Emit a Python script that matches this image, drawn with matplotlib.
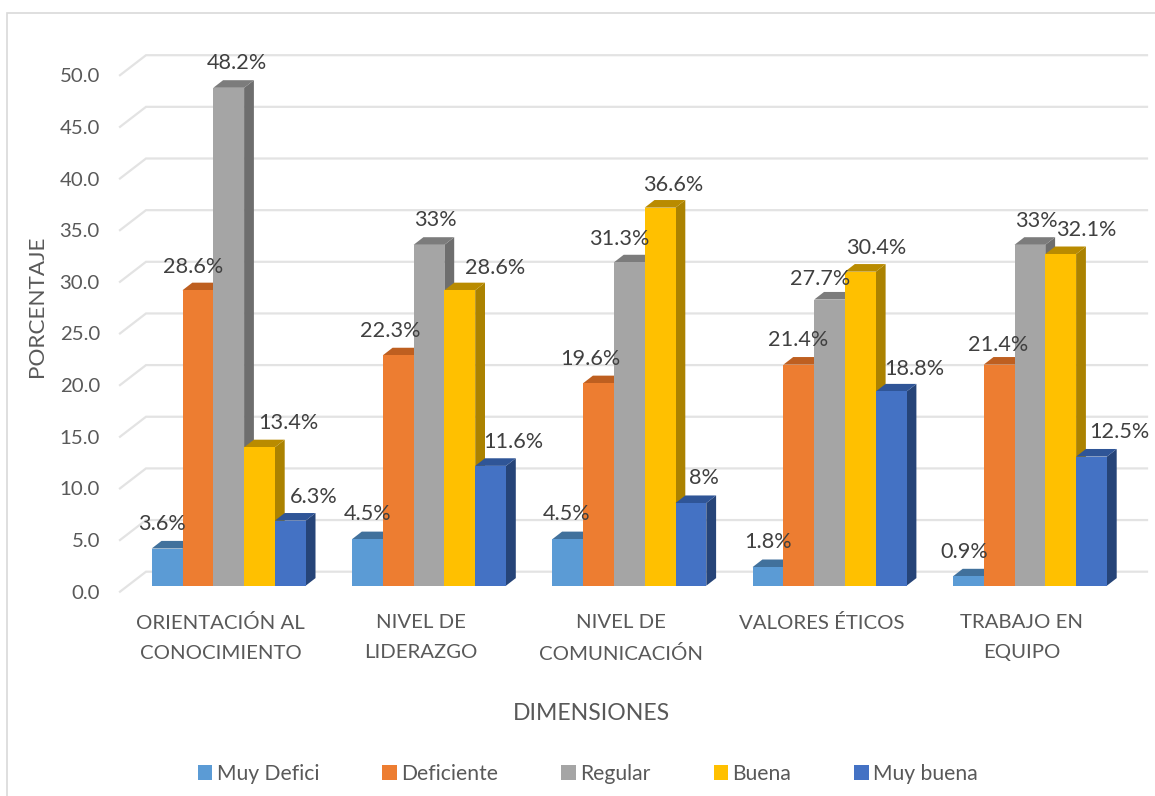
from __future__ import annotations

import matplotlib.pyplot as plt
import numpy as np
from matplotlib.patches import Patch, Rectangle

categories = [
    "ORIENTACIÓN AL\nCONOCIMIENTO",
    "NIVEL DE\nLIDERAZGO",
    "NIVEL DE\nCOMUNICACIÓN",
    "VALORES ÉTICOS",
    "TRABAJO EN\nEQUIPO",
]
series_names = ["Muy Defici", "Deficiente", "Regular", "Buena", "Muy buena"]
muy_deficiente = [3.6, 4.5, 4.5, 1.8, 0.9]
deficiente = [28.6, 22.3, 19.6, 21.4, 21.4]
regular = [48.2, 33, 31.3, 27.7, 33]
buena = [13.4, 28.6, 36.6, 30.4, 32.1]
muy_buena = [6.3, 11.6, 8, 18.8, 12.5]
y_ticks = [0, 5, 10, 15, 20, 25, 30, 35, 40, 45, 50]

front_colors = ["#5B9BD5", "#ED7D31", "#A5A5A5", "#FFC000", "#4472C4"]
top_colors = ["#41719C", "#BE5F20", "#7C7C7C", "#B98B00", "#2F5597"]
side_colors = ["#3A6A96", "#A5521E", "#6E6E6E", "#AB8200", "#264478"]
text_color = "#595959"
label_color = "#404040"
grid_color = "#E3E3E3"

# label offsets from bar centre, in pixels (the source chart moved them by hand)
nudges = [
    [(-5, 25), (0, 25), (-1, 25), (0, 25), (-4, 24)],
    [(-5, 23), (-8, 24), (-8, 24), (-1, 25), (-1, 20)],
    [(8, 25), (6, 25), (-10, 23), (-9, 21), (6, 24)],
    [(29, 24), (35, 22), (13, 23), (16, 24), (26, 24)],
    [(23, 24), (23, 24), (13, 25), (23, 22), (28, 25)],
]

W, H = 1155, 796
plt.rcParams["font.family"] = ["Lato", "DejaVu Sans"]

fig = plt.figure(figsize=(W / 100, H / 100), dpi=100)
fig.add_artist(Rectangle((7 / W, -0.1), 1.1, 1 - 13 / H + 0.1, transform=fig.transFigure,
                         fill=False, ec="#D9D9D9", lw=1.2))

# plot box: front-left floor corner to the top of the back wall
left, right, bottom, top = 120, 1147, 591.7, 55
ax = fig.add_axes([left / W, 1 - bottom / H, (right - left) / W, (bottom - top) / H])

px_x = 200.3   # pixels per category
px_y = 10.33   # pixels per percent
base_shift = 6 / px_y
ax.set_xlim((left - 220.5) / px_x, (right - 220.5) / px_x)
ax.set_ylim(-base_shift, (bottom - top) / px_y - base_shift)
ax.patch.set_visible(False)
for s in ax.spines.values():
    s.set_visible(False)

# walls: slanted floor edge, then the line along the back
wall_x = 26 / px_x
wall_y = 20 / px_y
x0, x1 = ax.get_xlim()
for v in y_ticks:
    yf = v - base_shift
    ax.plot([x0, x0 + wall_x, x1], [yf, yf + wall_y, yf + wall_y],
            color=grid_color, lw=1.6, solid_joinstyle="miter", zorder=1, clip_on=False)

values = [muy_deficiente, deficiente, regular, buena, muy_buena]
x = np.arange(len(categories))
bar_w = 30.8 / px_x
depth_x = 9.8 / px_x
depth_y = 7.6 / px_y
group_shift = 8.2 / px_x

for j, vals in enumerate(values):
    pos = x + group_shift + (j - 2) * bar_w
    z = 3 + j
    for xc, v in zip(pos, vals):
        l, r = xc - bar_w / 2, xc + bar_w / 2
        ax.fill([r, r + depth_x, r + depth_x, r], [0, depth_y, v + depth_y, v],
                color=side_colors[j], lw=0, zorder=z)
        ax.fill([l, r, r + depth_x, l + depth_x], [v, v, v + depth_y, v + depth_y],
                color=top_colors[j], lw=0, zorder=z)
    ax.bar(pos, vals, bar_w, color=front_colors[j], lw=0, zorder=z + 0.1)
    for i, (xc, v) in enumerate(zip(pos, vals)):
        ax.annotate(f"{v:g}%", (xc, v), xytext=nudges[j][i], textcoords="offset pixels",
                    ha="center", va="center", fontsize=15.6, color=label_color, zorder=20)

ax.set_yticks([v - base_shift for v in y_ticks], [f"{v:.1f}" for v in y_ticks])
ax.set_xticks(x, categories)
ax.tick_params(axis="y", length=0, pad=14.5, labelsize=14.7, labelcolor=text_color)
ax.tick_params(axis="x", length=0, pad=16.3, labelsize=14.7, labelcolor=text_color)
for t in ax.get_xticklabels():
    t.set_linespacing(1.88)

fig.text(37 / W, 1 - 306 / H, "PORCENTAJE", rotation=90, ha="center", va="center",
         fontsize=16.2, color=text_color)
fig.text(591 / W, 1 - 713 / H, "DIMENSIONES", ha="center", va="center",
         fontsize=16.6, color=text_color)

handles = [Patch(color=c, lw=0) for c in front_colors]
fig.legend(handles, series_names, ncol=5, loc="center", bbox_to_anchor=(588 / W, 1 - 774 / H),
           frameon=False, fontsize=15.2, labelcolor=text_color, handlelength=0.68,
           handleheight=0.68, handletextpad=0.22, columnspacing=2.98)

fig.savefig("out.png", dpi=100)
